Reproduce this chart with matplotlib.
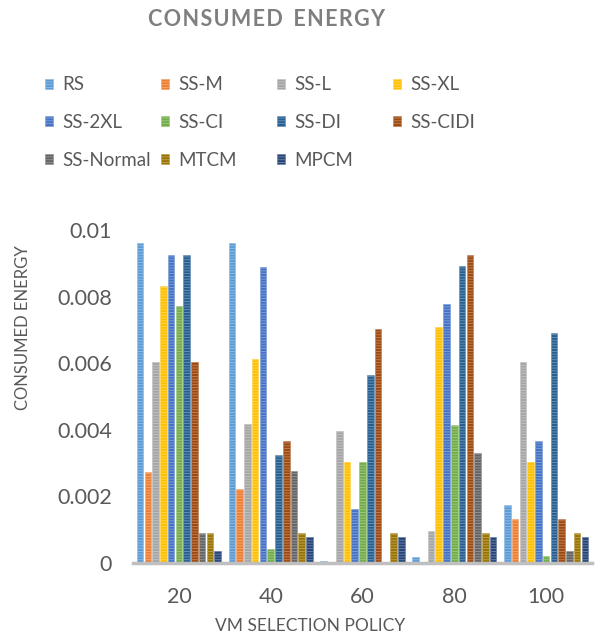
import matplotlib
matplotlib.use("Agg")
import matplotlib.pyplot as plt
import numpy as np

plt.rcParams['font.family'] = ['Lato', 'DejaVu Sans']
plt.rcParams['hatch.linewidth'] = 0.6

categories = ['20', '40', '60', '80', '100']
series_names = ['RS', 'SS-M', 'SS-L', 'SS-XL', 'SS-2XL', 'SS-CI', 'SS-DI',
                'SS-CIDI', 'SS-Normal', 'MTCM', 'MPCM']
RS = [0.0096, 0.0096, 0.00005, 0.00019, 0.00174]
SS_M = [0.00274, 0.00221, 0.00003, 0.00002, 0.00131]
SS_L = [0.00604, 0.00416, 0.00396, 0.00097, 0.00604]
SS_XL = [0.00832, 0.00612, 0.00304, 0.00708, 0.00304]
SS_2XL = [0.00924, 0.0089, 0.00161, 0.00778, 0.00367]
SS_CI = [0.00772, 0.00041, 0.00304, 0.00413, 0.00022]
SS_DI = [0.00924, 0.00323, 0.00564, 0.00892, 0.0069]
SS_CIDI = [0.00604, 0.00367, 0.00703, 0.00925, 0.00131]
SS_Normal = [0.00089, 0.00275, 0.00003, 0.00329, 0.00037]
MTCM = [0.00089, 0.00089, 0.00089, 0.00089, 0.00089]
MPCM = [0.00036, 0.00077, 0.00077, 0.00077, 0.00077]
values = [RS, SS_M, SS_L, SS_XL, SS_2XL, SS_CI, SS_DI, SS_CIDI, SS_Normal, MTCM, MPCM]

colors = ['#5B9BD5', '#ED7D31', '#A5A5A5', '#FFC000', '#4472C4', '#70AD47',
          '#255E91', '#9E480E', '#636363', '#997300', '#264478']

def lighten(c, f=0.35):
    rgb = np.array(matplotlib.colors.to_rgb(c))
    return tuple(rgb + (1 - rgb) * f)

W, H = 597.0, 640.0
fig = plt.figure(figsize=(5.97, 6.4), dpi=100)
ax = fig.add_axes([133 / W, 1 - 563 / H, 459 / W, 333 / H])

n = len(series_names)
x = np.arange(len(categories))
slot = 0.93 / n
bw = slot * 0.85
handles = []
for i, (name, vals, c) in enumerate(zip(series_names, values, colors)):
    pos = x - 0.465 + slot * (i + 0.5)
    b = ax.bar(pos, vals, width=bw, color=c, edgecolor=lighten(c), linewidth=0.5,
               hatch='------', label=name)
    handles.append(b)

ax.set_xlim(-0.5, len(categories) - 0.5)
ax.set_ylim(0, 0.01)
ax.set_yticks([0, 0.002, 0.004, 0.006, 0.008, 0.01])
ax.set_yticklabels(['0', '0.002', '0.004', '0.006', '0.008', '0.01'])
ax.set_xticks(x)
ax.set_xticklabels(categories)
ax.tick_params(axis='both', length=0, labelsize=15.5, colors='#595959')
ax.tick_params(axis='x', pad=17)
ax.tick_params(axis='y', pad=15)
for s in ['top', 'right', 'left']:
    ax.spines[s].set_visible(False)
ax.spines['bottom'].set_color('#BFBFBF')
ax.spines['bottom'].set_linewidth(2.5)

ax.set_xlabel('VM SELECTION POLICY', fontsize=12.5, color='#595959')
ax.xaxis.set_label_coords((310 - 133) / 459, (563 - 618) / 333)
ax.set_ylabel('CONSUMED ENERGY', fontsize=12, color='#595959')
ax.yaxis.set_label_coords((31 - 133) / 459, (563 - 328) / 333)

fig.text(267 / W, 1 - 20 / H,
         'C\u200aO\u200aN\u200aS\u200aU\u200aM\u200aE\u200aD  E\u200aN\u200aE\u200aR\u200aG\u200aY',
         ha='center', va='center', fontsize=15.5, fontweight='bold', color='#7F7F7F')

# legend, row-wise with equal column widths
col_x = [45, 161, 277, 393]
row_y = [85, 122, 160]
for i, (h, name) in enumerate(zip(handles, series_names)):
    r, cidx = divmod(i, 4)
    fig.legend(handles=[h], labels=[name], loc='center left',
               bbox_to_anchor=(col_x[cidx] / W, 1 - row_y[r] / H),
               frameon=False, fontsize=13.5, labelcolor='#595959',
               handlelength=0.45, handleheight=0.45, handletextpad=0.45,
               borderpad=0, borderaxespad=0)

fig.savefig('out.png', dpi=100)
